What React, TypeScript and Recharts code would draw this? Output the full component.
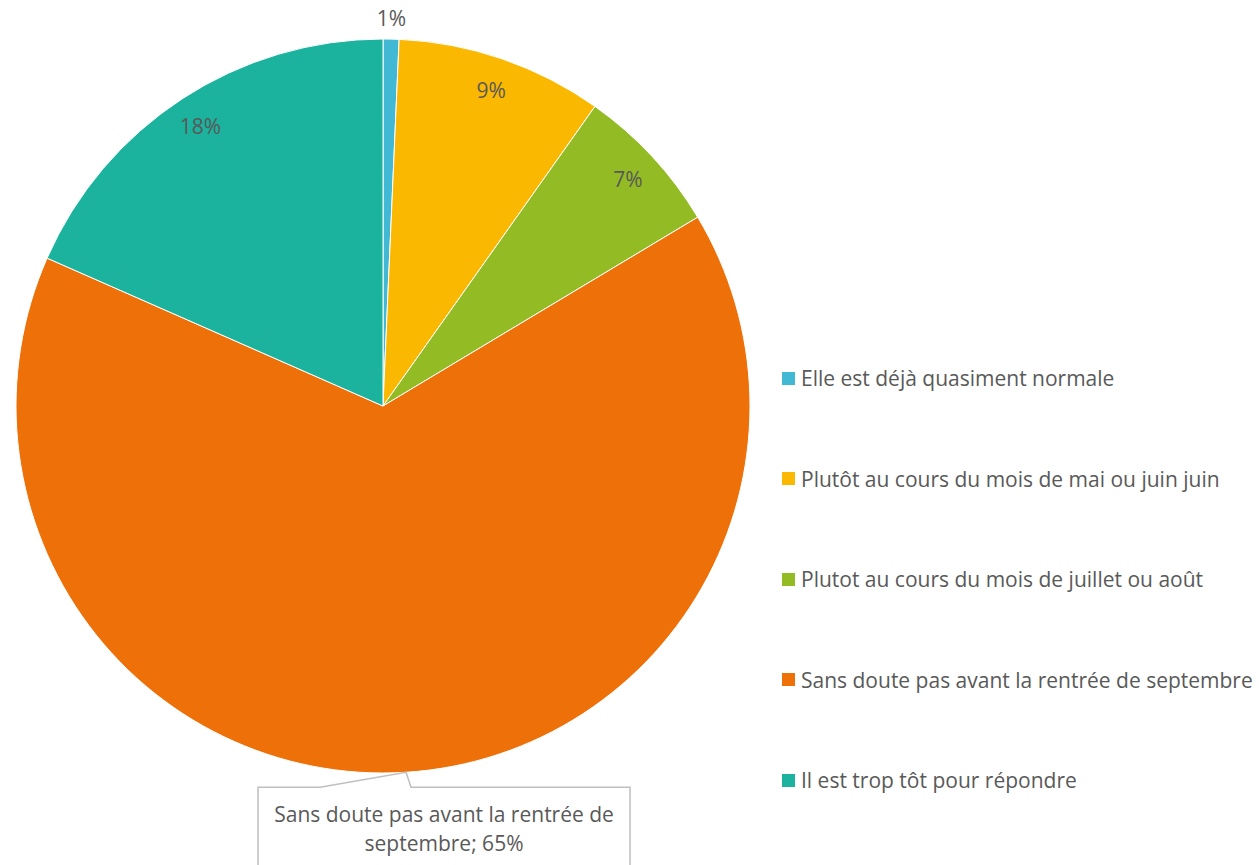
import React from "react";
import { PieChart, Pie, Cell, Legend } from "recharts";

const categories = [
  "Elle est déjà quasiment normale",
  "Plutôt au cours du mois de mai ou juin juin",
  "Plutot au cours du mois de juillet ou août",
  "Sans doute pas avant la rentrée de septembre",
  "Il est trop tôt pour répondre",
];
const shares = [0.7, 9.1, 6.6, 65.2, 18.4];
const colors = ["#41B8D4", "#FAB800", "#93BC24", "#EE7009", "#1BB29E"];
const calloutLines = ["Sans doute pas avant la rentrée de", "septembre; 65%"];

const data = categories.map((name, i) => ({ name, value: shares[i] }));

const RAD = Math.PI / 180;
const TEXT = "#595959";
const FONT = "'Open Sans', Lato, sans-serif";
const FS = 21;

const renderLabel = (props: any) => {
  const { cx, cy, midAngle, outerRadius, index, value } = props;
  const cos = Math.cos(-midAngle * RAD);
  const sin = Math.sin(-midAngle * RAD);
  const txt = `${Math.round(value)}%`;

  if (index === 3) {
    // callout box below the pie
    const tx = cx + outerRadius * cos;
    const ty = cy + outerRadius * sin;
    const left = tx - 148;
    const right = tx + 224;
    const top = ty + 15;
    const bottom = top + 120;
    const d = `M${left},${bottom} L${left},${top} L${tx - 86},${top} L${tx},${ty} L${tx + 5},${top} L${right},${top} L${right},${bottom}`;
    const mid = (left + right) / 2;
    return (
      <g key="callout">
        <path d={d} fill="#fff" stroke="#BFBFBF" strokeWidth={1.5} />
        {calloutLines.map((l, i) => (
          <text
            key={i}
            x={mid}
            y={top + 27 + i * 29}
            textAnchor="middle"
            dominantBaseline="central"
            fill={TEXT}
            fontSize={FS}
            fontFamily={FONT}
          >
            {l}
          </text>
        ))}
      </g>
    );
  }

  const r = index === 0 ? outerRadius + 21 : outerRadius - 33;
  return (
    <text
      key={index}
      x={cx + r * cos}
      y={cy + r * sin}
      textAnchor="middle"
      dominantBaseline="central"
      fill={TEXT}
      fontSize={FS}
      fontFamily={FONT}
    >
      {txt}
    </text>
  );
};

const renderLegend = () => (
  <div style={{ fontFamily: FONT, fontSize: FS, color: TEXT }}>
    {categories.map((c, i) => (
      <div
        key={c}
        style={{ display: "flex", alignItems: "center", height: 100.5, whiteSpace: "nowrap" }}
      >
        <span
          style={{
            display: "inline-block",
            width: 13,
            height: 13,
            background: colors[i],
            marginRight: 6,
          }}
        />
        <span>{c}</span>
      </div>
    ))}
  </div>
);

export default function App() {
  return (
    <div style={{ position: "absolute", left: 0, top: 0, width: 1259, height: 865, background: "#fff" }}>
      <PieChart width={1259} height={865} margin={{ top: 0, right: 0, bottom: 0, left: 0 }}>
        <Pie
          data={data}
          dataKey="value"
          nameKey="name"
          cx={383}
          cy={406}
          outerRadius={367}
          startAngle={90}
          endAngle={-270}
          stroke="#fff"
          strokeWidth={1}
          label={renderLabel}
          labelLine={false}
          isAnimationActive={false}
        >
          {data.map((d, i) => (
            <Cell key={d.name} fill={colors[i]} />
          ))}
        </Pie>
        <Legend
          content={renderLegend}
          wrapperStyle={{ position: "absolute", left: 782, top: 328, width: 477 }}
        />
      </PieChart>
    </div>
  );
}
